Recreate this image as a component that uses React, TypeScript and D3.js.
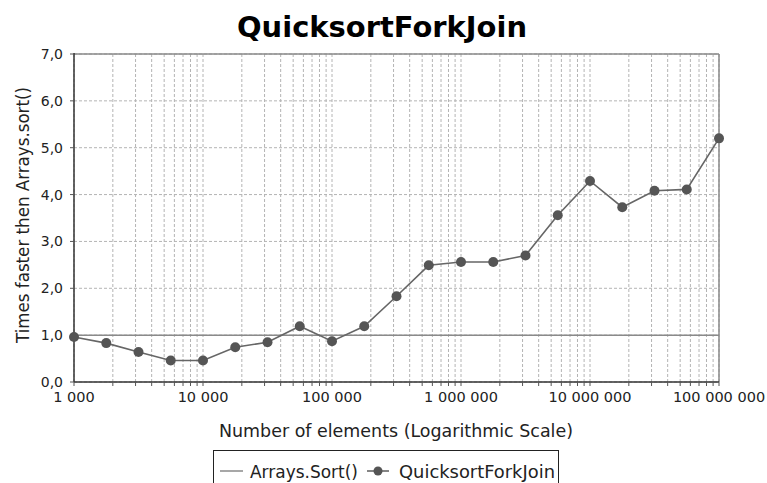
import React from "react";
import * as d3 from "d3";

const elements = [1000, 1778, 3162, 5623, 10000, 17783, 31623, 56234, 100000, 177828, 316228, 562341, 1000000, 1778279, 3162278, 5623413, 10000000, 17782794, 31622777, 56234133, 100000000];
const forkJoin = [0.96, 0.83, 0.64, 0.46, 0.46, 0.74, 0.85, 1.19, 0.87, 1.19, 1.83, 2.49, 2.56, 2.56, 2.70, 3.56, 4.29, 3.73, 4.08, 4.11, 5.20];
const arraysSort = [1, 1, 1, 1, 1, 1, 1, 1, 1, 1, 1, 1, 1, 1, 1, 1, 1, 1, 1, 1, 1];
const yTicks = [0, 1, 2, 3, 4, 5, 6, 7];
const xMajor = [1000, 10000, 100000, 1000000, 10000000, 100000000];
const xLabels = ["1 000", "10 000", "100 000", "1 000 000", "10 000 000", "100 000 000"];

const W = 767, H = 483;
const L = 74, R = 719, T = 54, B = 382;
const FONT = "DejaVu Sans, sans-serif";

export default function App() {
  const x = d3.scaleLog().domain([1000, 100000000]).range([L, R]);
  const y = d3.scaleLinear().domain([0, 7]).range([B, T]);
  const minor: number[] = [];
  for (let e = 3; e < 8; e++) for (let m = 1; m < 10; m++) minor.push(m * Math.pow(10, e));
  minor.push(100000000);
  const line = d3.line<number>().x((_, i) => x(elements[i])).y((d) => y(d));
  const fmt = d3.format(".1f");
  return (
    <svg width={W} height={H} style={{ position: "absolute", left: 0, top: 0, background: "#fff" }}>
      <text x={382} y={37} textAnchor="middle" fontFamily={FONT} fontWeight="bold" fontSize={29} textLength={290} lengthAdjust="spacingAndGlyphs">QuicksortForkJoin</text>
      {/* grid */}
      {minor.map((v, i) => (
        <line key={"gx" + i} x1={x(v)} x2={x(v)} y1={T} y2={B} stroke="#b4b4b4" strokeWidth={1} strokeDasharray="3,2" />
      ))}
      {yTicks.map((v) => (
        <line key={"gy" + v} x1={L} x2={R} y1={y(v)} y2={y(v)} stroke="#b4b4b4" strokeWidth={1} strokeDasharray="3,2" />
      ))}
      {/* border */}
      <line x1={L} x2={R} y1={T} y2={T} stroke="#8a8a8a" strokeWidth={1.5} />
      <line x1={R} x2={R} y1={T} y2={B} stroke="#8a8a8a" strokeWidth={1.5} />
      {/* axes */}
      <line x1={L} x2={L} y1={T - 1} y2={B} stroke="#333" strokeWidth={1.5} />
      <line x1={L} x2={R} y1={B} y2={B} stroke="#333" strokeWidth={1.5} />
      {yTicks.map((v) => (
        <g key={"yt" + v}>
          <line x1={L - 4} x2={L} y1={y(v)} y2={y(v)} stroke="#555" />
          <text x={L - 11} y={y(v) + 5} textAnchor="end" fontFamily={FONT} fontSize={14} fill="#222">{fmt(v).replace(".", ",")}</text>
        </g>
      ))}
      {minor.map((v, i) => (
        <line key={"xt" + i} x1={x(v)} x2={x(v)} y1={B} y2={B + 4} stroke="#555" />
      ))}
      {xMajor.map((v, i) => (
        <text key={"xl" + i} x={x(v)} y={402} textAnchor="middle" fontFamily={FONT} fontSize={14.5} fill="#222">{xLabels[i]}</text>
      ))}
      <text x={396} y={437} textAnchor="middle" fontFamily={FONT} fontSize={17} fill="#222" textLength={354} lengthAdjust="spacingAndGlyphs">Number of elements (Logarithmic Scale)</text>
      <text transform={`translate(29,${(87 + 343) / 2}) rotate(-90)`} textAnchor="middle" fontFamily={FONT} fontSize={17} fill="#222" textLength={256} lengthAdjust="spacingAndGlyphs">Times faster then Arrays.sort()</text>
      {/* series */}
      <path d={line(arraysSort) || ""} fill="none" stroke="#8a8a8a" strokeWidth={1.5} />
      <path d={line(forkJoin) || ""} fill="none" stroke="#666" strokeWidth={1.6} />
      {forkJoin.map((v, i) => (
        <circle key={"p" + i} cx={x(elements[i])} cy={y(v)} r={5} fill="#555" />
      ))}
      {/* legend */}
      <rect x={213.5} y={450.5} width={345} height={40} fill="#fff" stroke="#222" strokeWidth={1} />
      <line x1={220} x2={243} y1={471} y2={471} stroke="#8a8a8a" strokeWidth={1.5} />
      <text x={250} y={478} fontFamily={FONT} fontSize={17} fill="#222" textLength={108} lengthAdjust="spacingAndGlyphs">Arrays.Sort()</text>
      <line x1={367} x2={389} y1={471} y2={471} stroke="#666" strokeWidth={1.6} />
      <circle cx={378} cy={471} r={4.5} fill="#555" />
      <text x={399} y={478} fontFamily={FONT} fontSize={17.5} fill="#222" textLength={156} lengthAdjust="spacingAndGlyphs">QuicksortForkJoin</text>
    </svg>
  );
}
